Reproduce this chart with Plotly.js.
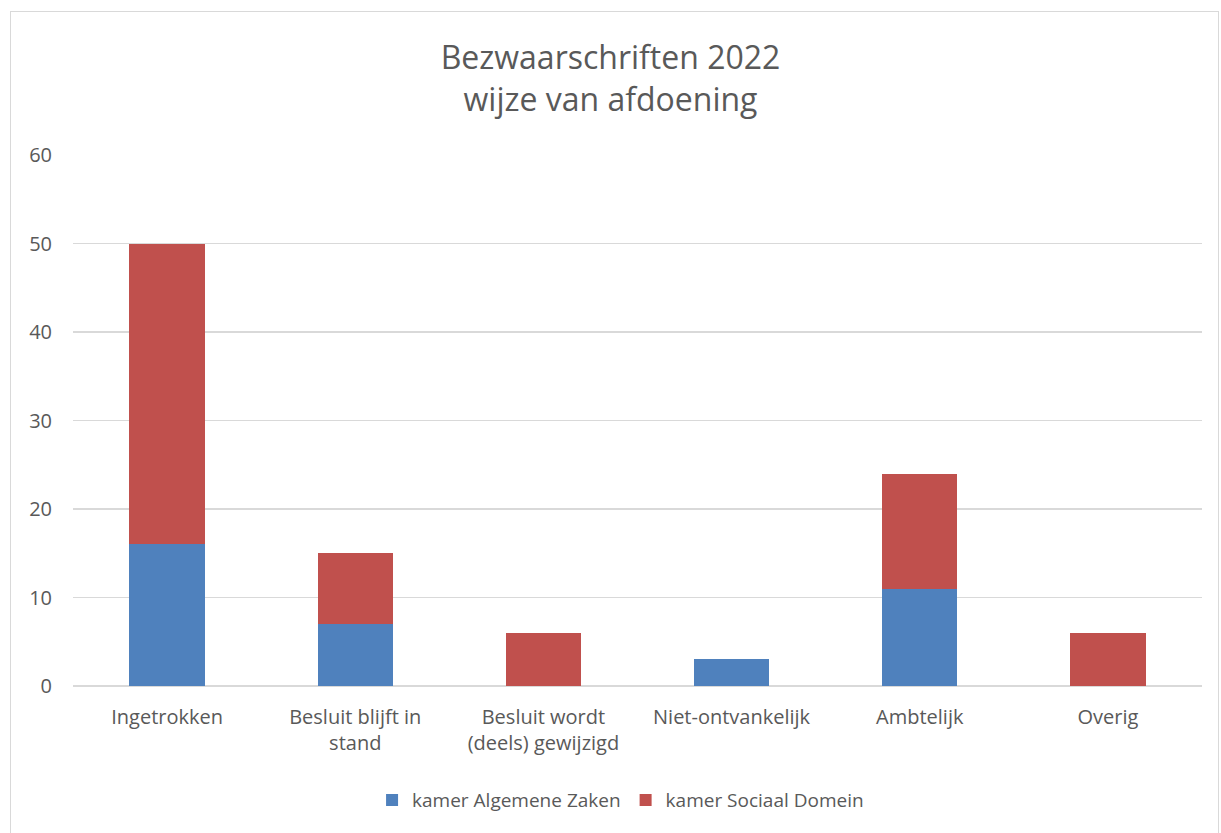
<!DOCTYPE html>
<html>
<head>
<meta charset="utf-8">
<script src="https://cdn.plot.ly/plotly-3.0.1.min.js"></script>
<style>
html,body{margin:0;padding:0;background:#fff;}
#chart{position:absolute;left:0;top:0;width:1221px;height:833px;}
#frame{position:absolute;left:10px;top:11px;width:1207px;height:830px;border:1.5px solid #d9d9d9;pointer-events:none;}
</style>
</head>
<body>
<div id="chart"></div>
<div id="frame"></div>
<script>
const categories = ["Ingetrokken", "Besluit blijft in<br>stand", "Besluit wordt<br>(deels) gewijzigd", "Niet-ontvankelijk", "Ambtelijk", "Overig"];
const algemeneZaken = [16, 7, 0, 3, 11, 0];
const sociaalDomein = [34, 8, 6, 0, 13, 6];
const seriesNames = ["kamer Algemene Zaken", "kamer Sociaal Domein"];
const yTicks = [0, 10, 20, 30, 40, 50, 60];

const font = {family: "Open Sans, Noto Sans, sans-serif", color: "#595959"};

const traces = [
  {type: "bar", name: seriesNames[0], x: categories, y: algemeneZaken,
   marker: {color: "#4f81bd"}, hoverinfo: "none"},
  {type: "bar", name: seriesNames[1], x: categories, y: sociaalDomein,
   marker: {color: "#c0504d"}, hoverinfo: "none"}
];

const layout = {
  width: 1221, height: 833,
  paper_bgcolor: "rgba(0,0,0,0)", plot_bgcolor: "#fff",
  barmode: "stack", bargap: 0.6,
  margin: {l: 73, r: 19, t: 155, b: 147},
  font: Object.assign({size: 20}, font),
  title: {text: "Bezwaarschriften 2022<br>wijze van afdoening",
          font: Object.assign({}, font, {size: 32}),
          x: 0.5, xanchor: "center", y: 0.917, yanchor: "middle"},
  xaxis: {type: "category", tickfont: Object.assign({}, font, {size: 20}),
          showgrid: false, zeroline: false, showline: false, ticks: "", ticklabelstandoff: 17},
  yaxis: {range: [0, 60], tickvals: yTicks, tickfont: Object.assign({}, font, {size: 20}),
          showgrid: true, gridcolor: "#d9d9d9", gridwidth: 1.5, zeroline: true, zerolinecolor: "#d9d9d9",
          zerolinewidth: 1.5, showline: false, ticks: "", ticklabelstandoff: 20},
  showlegend: true,
  legend: {orientation: "h", traceorder: "normal", x: 0.485, xanchor: "center", y: -0.215, yanchor: "middle",
           font: Object.assign({}, font, {size: 19}), itemwidth: 30, tracegroupgap: 0},
  hovermode: false
};

Plotly.newPlot("chart", traces, layout, {displayModeBar: false, staticPlot: true});
</script>
</body>
</html>
